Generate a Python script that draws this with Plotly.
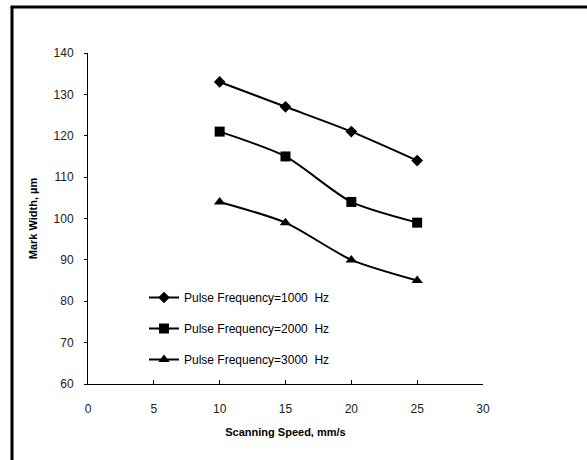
import plotly.graph_objects as go

speed = [10, 15, 20, 25]
w1000 = [133, 127, 121, 114]
w2000 = [121, 115, 104, 99]
w3000 = [104, 99, 90, 85]
names = ["Pulse Frequency=1000  Hz", "Pulse Frequency=2000  Hz", "Pulse Frequency=3000  Hz"]
symbols = ["diamond", "square", "triangle-up"]
sizes = [9, 10, 10]
series = [w1000, w2000, w3000]

W, H = 587, 460
L, R, T, B = 88, 104, 53, 76
pw, ph = W - L - R, H - T - B

fig = go.Figure()
for i, (ys, nm) in enumerate(zip(series, names)):
    fig.add_trace(go.Scatter(
        x=speed, y=ys, name=nm, mode="lines+markers",
        line=dict(color="black", width=2, shape="spline", smoothing=0.7),
        marker=dict(symbol=symbols[i], size=sizes[i], color="black"),
        legendgroup=f"g{i}",
    ))

tickfont = dict(family="Liberation Sans, Arial", size=12, color="#222")
titlefont = dict(family="Liberation Sans, Arial", size=11, color="black")

fig.update_layout(
    width=W, height=H,
    margin=dict(l=L, r=R, t=T, b=B),
    paper_bgcolor="white", plot_bgcolor="white",
    showlegend=True,
    legend=dict(
        x=(144 - L) / pw, y=(384 - 283) / ph, xanchor="left", yanchor="top",
        font=dict(family="Liberation Sans, Arial", size=12, color="black"),
        bgcolor="rgba(0,0,0,0)", tracegroupgap=12, itemwidth=30,
    ),
    xaxis=dict(
        range=[0, 30], tickvals=[0, 5, 10, 15, 20, 25, 30],
        showgrid=False, zeroline=False, showline=True, linecolor="black", linewidth=1,
        ticks="inside", ticklen=4, tickcolor="black", tickfont=tickfont,
        ticklabelstandoff=14,
        title=dict(text="<b>Scanning Speed, mm/s</b>", font=titlefont, standoff=12),
    ),
    yaxis=dict(
        range=[60, 140], tickvals=[60, 70, 80, 90, 100, 110, 120, 130, 140],
        showgrid=False, zeroline=False, showline=True, linecolor="black", linewidth=1,
        ticks="outside", ticklen=3, tickcolor="black", tickfont=tickfont,
        ticklabelstandoff=8,
        title=dict(text="<b>Mark Width, µm</b>", font=titlefont, standoff=13),
    ),
)

# outer frame (left and top edges visible)
fx = lambda px: (px - L) / pw
fy = lambda py: (H - B - py) / ph
fig.add_shape(type="line", xref="paper", yref="paper",
              x0=fx(12), y0=fy(H + 5), x1=fx(12), y1=fy(7),
              line=dict(color="black", width=3))
fig.add_shape(type="line", xref="paper", yref="paper",
              x0=fx(10.5), y0=fy(7), x1=fx(W + 5), y1=fy(7),
              line=dict(color="black", width=3))

fig.write_html("out.html")
